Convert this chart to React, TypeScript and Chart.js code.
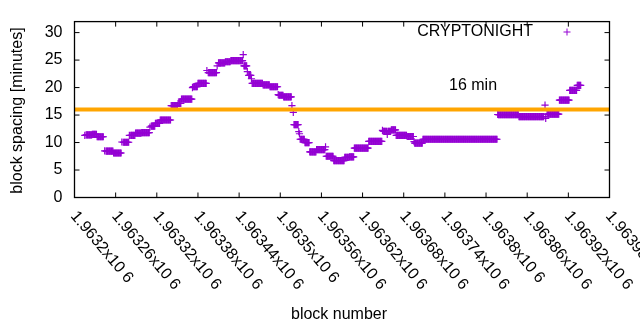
import React, { useEffect, useRef } from "react";
import { Chart, registerables } from "chart.js";
Chart.register(...registerables);

const BLOCK0 = 1963200;
const XMIN = 1963200;
const XMAX = 1963980;
const xTickValues = [1963200, 1963260, 1963320, 1963380, 1963440, 1963500, 1963560, 1963620, 1963680, 1963740, 1963800, 1963860, 1963920, 1963980];
const xTickLabels = ["1.9632x10 6", "1.96326x10 6", "1.96332x10 6", "1.96338x10 6", "1.96344x10 6", "1.9635x10 6", "1.96356x10 6", "1.96362x10 6", "1.96368x10 6", "1.96374x10 6", "1.9638x10 6", "1.96386x10 6", "1.96392x10 6", "1.96398x10 6"];
const yTickValues = [0, 5, 10, 15, 20, 25, 30];

// runs of constant block spacing: start block offset, end block offset, minutes
const runStart = [15, 17, 26, 33, 44, 46, 57, 69, 71, 80, 82, 89, 98, 110, 112, 118, 125, 141, 151, 156, 172, 173, 180, 193, 195, 208, 210, 220, 228, 246, 247, 252, 254, 258, 259, 275, 285, 297, 298, 305, 317, 319, 320, 327, 328, 329, 336, 343, 353, 366, 367, 378, 394, 401, 408, 429, 449, 450, 456, 457, 462, 469, 485, 495, 496, 508, 617, 618, 648, 686, 687, 689, 707, 722, 733];
const runEnd = [15, 25, 32, 42, 44, 56, 68, 69, 79, 80, 88, 97, 109, 110, 117, 124, 140, 150, 155, 171, 172, 179, 192, 193, 207, 208, 219, 227, 245, 246, 251, 252, 257, 258, 274, 284, 296, 297, 304, 316, 317, 319, 326, 327, 328, 335, 342, 352, 365, 366, 377, 393, 400, 407, 428, 448, 449, 455, 456, 461, 468, 484, 494, 495, 507, 616, 617, 647, 684, 686, 687, 706, 721, 732, 738];
const runValue = [11.3, 11.4, 11.5, 11.05, 8.5, 8.45, 8.1, 10.1, 10.05, 11.3, 11.3, 11.7, 11.8, 12.8, 13.0, 13.5, 14.1, 16.7, 17.1, 17.9, 20.0, 20.15, 20.75, 23.1, 22.7, 23.95, 24.5, 24.7, 24.9, 26.0, 23.95, 22.9, 22.2, 21.6, 20.75, 20.5, 20.15, 18.7, 18.6, 18.3, 16.7, 15.5, 13.25, 12.0, 11.6, 10.6, 10.0, 8.3, 8.7, 9.2, 7.5, 6.7, 7.3, 7.4, 9.0, 10.2, 12.2, 12.05, 11.5, 12.05, 12.3, 11.3, 11.1, 10.15, 9.9, 10.6, 15.1, 15.05, 14.7, 16.8, 14.4, 15.15, 17.7, 19.5, 20.4];

const TARGET = 16;
const FONT = "Liberation Sans, Arial, sans-serif";

export default function App() {
  const ref = useRef<HTMLCanvasElement>(null);
  useEffect(() => {
    document.body.style.margin = "0";
    const points: { x: number; y: number }[] = [];
    runStart.forEach((s, i) => {
      for (let b = s; b <= runEnd[i]; b++) points.push({ x: BLOCK0 + b, y: runValue[i] });
    });
    const L = 74.5, T = 19.5, R = 609.5, B = 197.5;
    const deco = {
      id: "deco",
      afterDraw(chart: any) {
        const ctx = chart.ctx as CanvasRenderingContext2D;
        const xs = chart.scales.x, ys = chart.scales.y;
        const a = chart.chartArea;
        ctx.save();
        ctx.strokeStyle = "#000";
        ctx.lineWidth = 1.3;
        ctx.strokeRect(a.left, a.top, a.right - a.left, a.bottom - a.top);
        ctx.lineWidth = 1;
        ctx.beginPath();
        yTickValues.forEach((v) => {
          const y = ys.getPixelForValue(v);
          ctx.moveTo(a.left, y); ctx.lineTo(a.left + 5, y);
          ctx.moveTo(a.right, y); ctx.lineTo(a.right - 5, y);
        });
        xTickValues.forEach((v) => {
          const x = xs.getPixelForValue(v);
          ctx.moveTo(x, a.bottom); ctx.lineTo(x, a.bottom - 5);
          ctx.moveTo(x, a.top); ctx.lineTo(x, a.top + 5);
        });
        ctx.stroke();
        ctx.fillStyle = "#000";
        ctx.font = `16px ${FONT}`;
        xTickValues.forEach((v, i) => {
          const x = xs.getPixelForValue(v);
          ctx.save();
          ctx.translate(x - 1, a.bottom + 16);
          ctx.rotate((50 * Math.PI) / 180);
          ctx.textAlign = "left";
          ctx.textBaseline = "middle";
          ctx.fillText(xTickLabels[i], 0, 0);
          ctx.restore();
        });
        ctx.textAlign = "center";
        ctx.textBaseline = "middle";
        ctx.fillText("block number", 339, 315);
        ctx.save();
        ctx.translate(18, (a.top + a.bottom) / 2 + 1);
        ctx.rotate(-Math.PI / 2);
        ctx.fillText("block spacing [minutes]", 0, 0);
        ctx.restore();
        ctx.textAlign = "right";
        ctx.fillText("CRYPTONIGHT", 533, 32);
        ctx.textAlign = "left";
        ctx.fillText("16 min", 449, 86);
        ctx.strokeStyle = "#9400d3";
        ctx.beginPath();
        ctx.moveTo(563.5, 32); ctx.lineTo(570.5, 32);
        ctx.moveTo(567, 28.5); ctx.lineTo(567, 35.5);
        ctx.stroke();
        ctx.restore();
      },
    };
    const chart = new Chart(ref.current!, {
      type: "scatter",
      data: {
        datasets: [
          {
            label: "16 min",
            data: [{ x: XMIN, y: TARGET }, { x: XMAX, y: TARGET }],
            showLine: true,
            borderColor: "#ffa500",
            backgroundColor: "#ffa500",
            borderWidth: 4,
            pointRadius: 0,
            order: 0,
          } as any,
          {
            label: "CRYPTONIGHT",
            data: points,
            pointStyle: "cross",
            pointRadius: 3.6,
            borderColor: "#9400d3",
            backgroundColor: "#9400d3",
            pointBorderColor: "#9400d3",
            borderWidth: 1.2,
            pointBorderWidth: 1.2,
            order: 1,
          } as any,
        ],
      },
      options: {
        animation: false,
        responsive: false,
        events: [],
        layout: { padding: { top: T, right: 640 - R, left: 0, bottom: 0 } },
        plugins: { legend: { display: false }, tooltip: { enabled: false } },
        scales: {
          x: {
            type: "linear",
            min: XMIN,
            max: XMAX,
            afterBuildTicks: (s: any) => { s.ticks = xTickValues.map((v) => ({ value: v })); },
            afterFit: (s: any) => { s.height = 330 - B; },
            ticks: { display: false },
            grid: { display: false, drawTicks: false },
            border: { display: false },
          },
          y: {
            type: "linear",
            min: 0,
            max: 32,
            afterBuildTicks: (s: any) => { s.ticks = yTickValues.map((v) => ({ value: v })); },
            afterFit: (s: any) => { s.width = L; },
            ticks: { font: { family: FONT, size: 16 }, color: "#000", padding: 12 },
            grid: { display: false, drawTicks: false },
            border: { display: false },
          },
        },
      } as any,
      plugins: [deco],
    });
    return () => chart.destroy();
  }, []);
  return (
    <div style={{ width: 640, height: 330 }}>
      <canvas ref={ref} width={640} height={330} style={{ display: "block" }} />
    </div>
  );
}
